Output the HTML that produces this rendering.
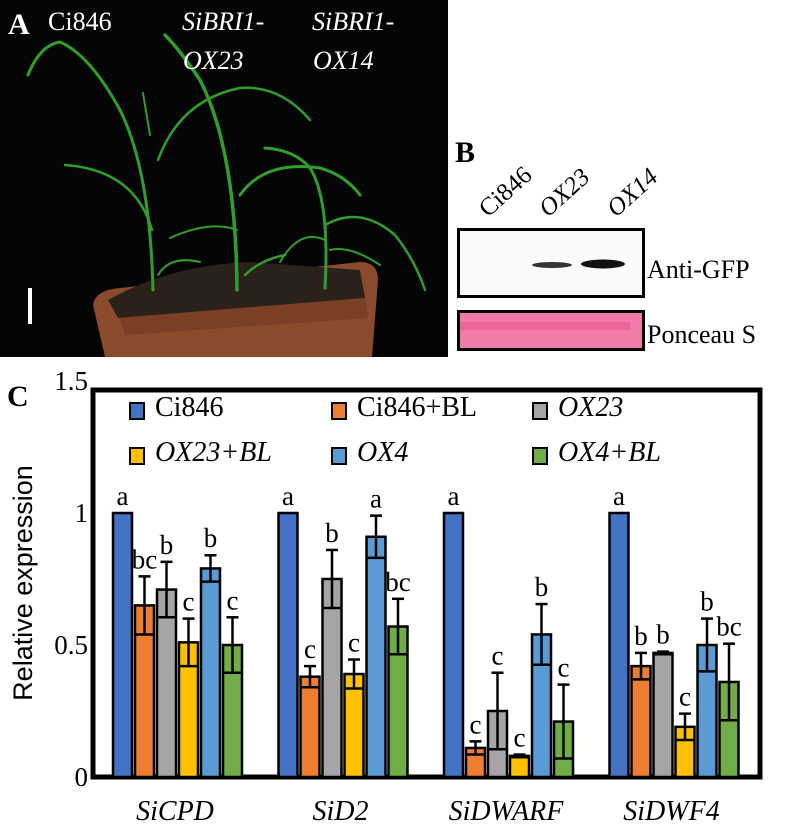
<!DOCTYPE html>
<html><head><meta charset="utf-8">
<style>
html,body{margin:0;padding:0;background:#fff;}
svg{display:block;}
svg text{font-family:"Liberation Serif","DejaVu Serif",serif;}
svg text.sans{font-family:"Liberation Sans","DejaVu Sans",sans-serif;}
</style></head>
<body>
<svg id="fig" width="789" height="829" viewBox="0 0 789 829" xmlns="http://www.w3.org/2000/svg">
  <g>
    <rect x="0" y="0" width="448" height="357" fill="#050505"/>
    <path d="M93,305 Q95,290 120,288 L360,262 Q378,262 378,280 L372,357 L105,357 Z" fill="#8a4a2c"/>
    <path d="M108,300 Q170,265 250,262 L360,270 L365,298 L118,318 Z" fill="#2a211b"/>
    <path d="M120,318 L365,298 L368,318 L125,335 Z" fill="#7a3f24"/>
    <g fill="none" stroke="#2f9e2a" stroke-linecap="round">
      <path d="M153,290 Q150,170 120,110 Q90,55 60,42 Q40,45 28,75" stroke-width="3"/>
      <path d="M152,230 Q135,170 65,165" stroke-width="2.5"/>
      <path d="M150,135 L143,93" stroke-width="2"/>
      <path d="M158,275 Q170,255 200,262" stroke-width="2"/>
      <path d="M237,290 Q236,150 200,80 Q180,50 165,35" stroke-width="3.5"/>
      <path d="M158,160 Q180,100 240,88 Q280,85 310,120" stroke-width="2.5"/>
      <path d="M237,230 Q210,220 170,238" stroke-width="2"/>
      <path d="M240,195 Q265,160 320,168 Q345,175 360,195" stroke-width="3"/>
      <path d="M245,275 Q260,260 285,255" stroke-width="2.5"/>
      <path d="M325,288 Q330,200 310,168 Q295,150 265,148" stroke-width="3"/>
      <path d="M325,225 Q360,205 395,235 Q415,260 425,290" stroke-width="2.5"/>
      <path d="M325,240 Q300,228 280,262" stroke-width="2"/>
      <path d="M330,250 Q350,245 380,265" stroke-width="2"/>
    </g>
    <rect x="28" y="288" width="4" height="36" fill="#fff"/>
    <text x="8" y="34" font-weight="bold" font-size="30" fill="#fff">A</text>
    <text x="48" y="30" font-size="26" fill="#fff">Ci846</text>
    <text x="182" y="30" font-style="italic" font-size="26" fill="#fff"><tspan x="182">SiBRI1-</tspan><tspan x="183" dy="39">OX23</tspan></text>
    <text x="312" y="30" font-style="italic" font-size="26" fill="#fff"><tspan x="312">SiBRI1-</tspan><tspan x="313" dy="39">OX14</tspan></text>
  </g>
  <g>
    <text x="455" y="162" font-weight="bold" font-size="30">B</text>
    <text transform="translate(488,218) rotate(-42)" font-size="25">Ci846</text>
    <text transform="translate(548,218) rotate(-42)" font-size="25" font-style="italic">OX23</text>
    <text transform="translate(616,218) rotate(-42)" font-size="25" font-style="italic">OX14</text>
    <rect x="458.5" y="229.5" width="185" height="67" fill="#fafafa" stroke="#000" stroke-width="3"/>
    <ellipse cx="552" cy="265" rx="20" ry="3" fill="#333"/>
    <ellipse cx="603" cy="264" rx="22" ry="4.5" fill="#111"/>
    <rect x="458.5" y="311.5" width="185" height="38" fill="#f07aa8" stroke="#000" stroke-width="3"/>
    <rect x="460" y="322" width="170" height="8" fill="#e9558f" opacity="0.6"/>
    <text x="647" y="278" font-size="26">Anti-GFP</text>
    <text x="647" y="343" font-size="26">Ponceau S</text>
  </g>
  <g id="chart"></g>
</svg>
<script>
const genes = ["SiCPD","SiD2","SiDWARF","SiDWF4"];
const seriesNames = ["Ci846","Ci846+BL","OX23","OX23+BL","OX4","OX4+BL"];
const valCi846   = [1, 1, 1, 1];
const valCi846BL = [0.65, 0.38, 0.11, 0.42];
const valOX23    = [0.71, 0.75, 0.25, 0.47];
const valOX23BL  = [0.51, 0.39, 0.08, 0.19];
const valOX4     = [0.79, 0.91, 0.54, 0.50];
const valOX4BL   = [0.50, 0.57, 0.21, 0.36];
const errCi846   = [0, 0, 0, 0];
const errCi846BL = [0.11, 0.04, 0.025, 0.05];
const errOX23    = [0.105, 0.11, 0.145, 0.005];
const errOX23BL  = [0.09, 0.055, 0.005, 0.05];
const errOX4     = [0.05, 0.08, 0.115, 0.10];
const errOX4BL   = [0.105, 0.105, 0.14, 0.145];
const lettersCi846   = ["a","a","a","a"];
const lettersCi846BL = ["bc","c","c","b"];
const lettersOX23    = ["b","b","c","b"];
const lettersOX23BL  = ["c","c","c","c"];
const lettersOX4     = ["b","a","b","b"];
const lettersOX4BL   = ["c","bc","c","bc"];
const yTicks = [0, 0.5, 1, 1.5];
const yTickLabels = ["0","0.5","1","1.5"];

const values = [valCi846,valCi846BL,valOX23,valOX23BL,valOX4,valOX4BL];
const errs = [errCi846,errCi846BL,errOX23,errOX23BL,errOX4,errOX4BL];
const letters = [lettersCi846,lettersCi846BL,lettersOX23,lettersOX23BL,lettersOX4,lettersOX4BL];
const colors = ["#4472c4","#ed7d31","#a5a5a5","#ffc000","#5b9bd5","#70ad47"];
const italicLegend = [false,false,true,true,true,true];

const NS = "http://www.w3.org/2000/svg";
const chartG = document.getElementById("chart");
const plotLeft = 93, plotRight = 760, plotTop = 390, plotBase = 777, unitPx = 264;
const yScale = v => plotBase - v * unitPx;
const groupX = i => 113 + i * 165.5;
const barX = (i, s) => groupX(i) + s * 22;
const barW = 19;
function mk(tag, attrs, parent) {
  const e = document.createElementNS(NS, tag);
  for (const k in attrs) e.setAttribute(k, attrs[k]);
  (parent || chartG).appendChild(e);
  return e;
}
const frame = mk("rect", {x: plotLeft, y: plotTop, width: plotRight-plotLeft, height: plotBase-plotTop, fill: "none", stroke: "#000", "stroke-width": 5});



const cl = mk("text", {x: 7, y: 406, "font-weight": "bold", "font-size": 30});
cl.textContent = "C";



yTicks.forEach((t, i) => {
  const tx = mk("text", {x: 88, y: yScale(t) + 9, "text-anchor": "end", "font-size": 27});
  tx.textContent = yTickLabels[i];
  
  
});
const yt = mk("text", {class: "sans", transform: "translate(32,583) rotate(-90)", "text-anchor": "middle", "font-size": 27});
yt.textContent = "Relative expression";



const legPos = [[130,410],[332,410],[533,410],[130,455],[332,455],[533,455]];
seriesNames.forEach((n, s) => {
  const lg = mk("g", {});
  
  
  mk("rect", {x: legPos[s][0], y: legPos[s][1]-7, width: 14, height: 16, fill: colors[s], stroke: "#000", "stroke-width": 2}, lg);
  const t = mk("text", {x: legPos[s][0]+25, y: legPos[s][1]+6, "font-size": 28, "font-style": italicLegend[s] ? "italic" : "normal"}, lg);
  t.textContent = n;
});

genes.forEach((gn, i) => {
  for (let s = 0; s < 6; s++) {
    const v = values[s][i], e = errs[s][i];
    const x = barX(i, s);
    const b = mk("rect", {x: x, y: yScale(v), width: barW, height: plotBase - yScale(v), fill: colors[s], stroke: "#000", "stroke-width": 2.5});
    
    
    if (e > 0.001) {
      const cx = x + barW/2;
      mk("line", {x1: cx, x2: cx, y1: yScale(v+e), y2: yScale(v-e), stroke: "#000", "stroke-width": 2.5});
      mk("line", {x1: cx-6, x2: cx+6, y1: yScale(v+e), y2: yScale(v+e), stroke: "#000", "stroke-width": 2.5});
      mk("line", {x1: x, x2: x+barW, y1: yScale(v-e), y2: yScale(v-e), stroke: "#000", "stroke-width": 2.5});
    }
    const lt = mk("text", {x: x + barW/2, y: yScale(v+e) - 8, "text-anchor": "middle", "font-size": 27});
    lt.textContent = letters[s][i];
    
    
  }
  const xl = mk("text", {x: groupX(i) + 62, y: 820, "text-anchor": "middle", "font-style": "italic", "font-size": 28});
  xl.textContent = gn;
  
  
});
</script>
</body></html>
